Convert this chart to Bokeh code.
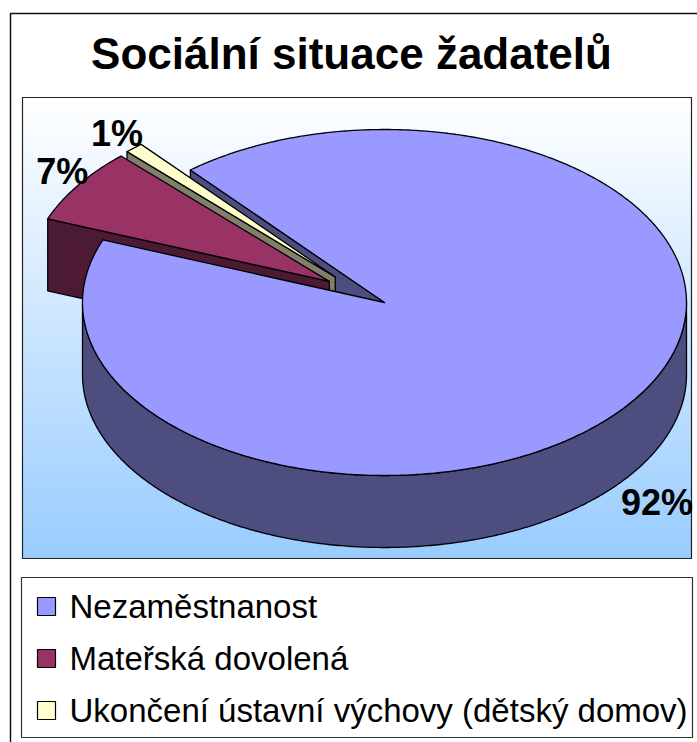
import numpy as np
from bokeh.plotting import figure
from bokeh.models import Range1d
from bokeh.core.properties import value
from bokeh.embed import file_html
from bokeh.resources import INLINE

# ---------------- data ----------------
title = "Sociální situace žadatelů"
categories = ["Nezaměstnanost", "Mateřská dovolená", "Ukončení ústavní výchovy (dětský domov)"]
values = [92, 7, 1]
pct_labels = ["92%", "7%", "1%"]

# ---------------- style ----------------
top_colors = ["#9999ff", "#993366", "#ffffcc"]
side_colors = ["#4d4d80", "#4d1a33", "#80806a"]
explode = [0.0, 0.22, 0.22]
explode_turn = [0.0, 0.0, 6.0]   # degrees added to explode direction
label_nudge = [(-9, 40), (10, -1), (9, -2)]
FONT = value("Liberation Sans")
BASE_FIX = 0.34  # em; lift alphabetic-baseline texts to match rendering
LEGEND_SIZE = 33

W, H = 697, 742


def X(x):
    return np.asarray(x, dtype=float) * 1.0


def Y(y):
    return np.asarray(y, dtype=float) * 1.0


def TY(y, size):
    return np.asarray(y, dtype=float) - BASE_FIX * size


p = figure(width=W, height=H, x_range=Range1d(0, W), y_range=Range1d(H, 0),
           output_backend="svg", toolbar_location=None, min_border=0,
           x_axis_location=None, y_axis_location=None)
p.grid.visible = False
p.outline_line_color = None
p.background_fill_color = "white"
p.border_fill_color = "white"

# outer chart border
p.quad(left=X(10), right=X(720), top=Y(13), bottom=Y(760), fill_color=None,
       line_color="#111111", line_width=1.5)

# title
p.text(x=X(351), y=TY(68, 44), text=[title], text_font=FONT, text_font_style="bold",
       text_font_size="44px", text_align="center", text_baseline="alphabetic", text_color="black")

# plot area gradient
pa_l, pa_r, pa_t, pa_b = 22, 691, 97, 558
n = 92
edges = np.linspace(pa_t, pa_b, n + 1)
cols = []
for i in range(n):
    f = (i + 0.5) / n
    r = int(round(255 + (153 - 255) * f))
    g = int(round(255 + (204 - 255) * f))
    cols.append("#%02x%02x%02x" % (r, g, 255))
p.quad(left=X(pa_l), right=X(pa_r), top=Y(edges[:-1]), bottom=Y(edges[1:]),
       fill_color=cols, line_color=cols, line_width=1)
p.quad(left=X(pa_l), right=X(pa_r), top=Y(pa_t), bottom=Y(pa_b), fill_color=None,
       line_color="#222222", line_width=1.2)

# ---------------- 3D pie ----------------
cx, cy, rx, ry, depth = 384.0, 302.0, 302.0, 173.0, 72.0
start = 130.0
total = float(sum(values))
spans = [360.0 * v / total for v in values]
a_hi, a_lo = [], []
a = start
for s in spans:
    a_hi.append(a)
    a_lo.append(a - s)
    a -= s
mids = [(h + l) / 2 for h, l in zip(a_hi, a_lo)]
offs = [(e * rx * np.cos(np.radians(m + t)), -e * ry * np.sin(np.radians(m + t)))
        for e, m, t in zip(explode, mids, explode_turn)]


def arc(t0, t1, o, dz=0.0, npts=None):
    if npts is None:
        npts = max(2, int(abs(t1 - t0) * 2) + 2)
    t = np.radians(np.linspace(t0, t1, npts))
    return cx + rx * np.cos(t) + o[0], cy - ry * np.sin(t) + o[1] + dz


def cut_face(ang, o):
    ox, oy = arc(ang, ang, o, npts=1)
    xs = [cx + o[0], ox[0], ox[0], cx + o[0]]
    ys = [cy + o[1], oy[0], oy[0] + depth, cy + o[1] + depth]
    return xs, ys


def top_face(i):
    o = offs[i]
    ax, ay = arc(a_hi[i], a_lo[i], o)
    xs = np.concatenate([[cx + o[0]], ax])
    ys = np.concatenate([[cy + o[1]], ay])
    return xs, ys


def walls(i):
    res = []
    o = offs[i]
    for k in range(-2, 2):
        lo = max(a_lo[i], -180 + 360 * k)
        hi = min(a_hi[i], 0 + 360 * k)
        if hi > lo:
            tx, ty = arc(lo, hi, o)
            bx, by = arc(hi, lo, o, dz=depth)
            res.append((np.concatenate([tx, bx]), np.concatenate([ty, by])))
    return res


OUT = dict(line_color="black", line_width=1.3, line_join="round")


def draw(xs, ys, color):
    p.patch(list(X(xs)), list(Y(ys)), fill_color=color, **OUT)


def draw_cuts(i):
    if np.cos(np.radians(a_hi[i])) < 0:
        xs, ys = cut_face(a_hi[i], offs[i])
        draw(xs, ys, side_colors[i])
    if np.cos(np.radians(a_lo[i])) > 0:
        xs, ys = cut_face(a_lo[i], offs[i])
        draw(xs, ys, side_colors[i])


n_sl = len(values)
whole = [i for i in range(n_sl) if explode[i] == 0]
exploded = [i for i in range(n_sl) if explode[i] > 0]
for i in whole:
    draw_cuts(i)
for i in sorted(exploded, key=lambda k: -np.sin(np.radians(mids[k]))):
    draw_cuts(i)
    xs, ys = top_face(i)
    draw(xs, ys, top_colors[i])
for i in range(n_sl):
    for xs, ys in walls(i):
        draw(xs, ys, side_colors[i])
for i in whole:
    xs, ys = top_face(i)
    draw(xs, ys, top_colors[i])

# percentage labels
for i in range(n_sl):
    m = mids[i]
    front = np.sin(np.radians(m)) < 0
    px, py = arc(m, m, offs[i], dz=depth if front else 0.0, npts=1)
    align = "right" if np.cos(np.radians(m)) < 0 else "left"
    p.text(x=float(px[0] + label_nudge[i][0]), y=float(TY(py[0] + label_nudge[i][1], 36)),
           text=[pct_labels[i]],
           text_font=FONT, text_font_style="bold", text_font_size="36px",
           text_align=align, text_baseline="alphabetic", text_color="black")

# ---------------- legend ----------------
lg_l, lg_r, lg_t, lg_b = 21, 692, 577, 737
p.quad(left=X(lg_l), right=X(lg_r), top=Y(lg_t), bottom=Y(lg_b), fill_color="white",
       line_color="#333333", line_width=1.2)
row0, row_gap = 606, 52
rows = np.array([row0 + row_gap * k for k in range(len(categories))], dtype=float)
p.rect(x=46.0, y=list(rows), width=18, height=18, fill_color=top_colors,
       line_color="black", line_width=1.2)
p.text(x=69.0, y=list(TY(rows + 11, LEGEND_SIZE)), text=categories, text_font=FONT,
       text_font_size="%dpx" % LEGEND_SIZE,
       text_align="left", text_baseline="alphabetic", text_color="black")

open("out.html", "w").write(file_html(p, INLINE))
